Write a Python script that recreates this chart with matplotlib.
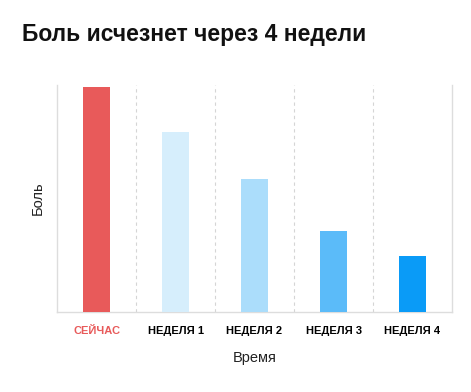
import matplotlib.pyplot as plt

# Datos del gráfico
categorias = ['СЕЙЧАС', 'НЕДЕЛЯ 1', 'НЕДЕЛЯ 2', 'НЕДЕЛЯ 3', 'НЕДЕЛЯ 4']
dolor = [10.0, 8.0, 5.9, 3.6, 2.5]
colores = ['#E85A5A', '#D6EEFC', '#ABDDFB', '#5BBBF9', '#0A9BF7']

plt.rcParams['font.family'] = ['Liberation Sans', 'DejaVu Sans']

fig = plt.figure(figsize=(4.71, 3.92), dpi=100)
ax = fig.add_axes([57 / 471, 1 - 312 / 392, 395 / 471, 227 / 392])

x = range(len(categorias))
ax.bar(x, dolor, width=0.33, color=colores, zorder=3)

ax.set_xlim(-0.5, len(categorias) - 0.5)
ax.set_ylim(0, 10.1)

# Líneas discontinuas entre categorías
for b in range(len(categorias) - 1):
    ax.axvline(b + 0.5, color='#D5D5D5', linestyle=(0, (3, 3)), linewidth=0.8, zorder=1)

for lado in ['left', 'right', 'bottom']:
    ax.spines[lado].set_color('#DDDDDD')
    ax.spines[lado].set_linewidth(1.0)
ax.spines['top'].set_visible(False)

ax.set_yticks([])
ax.set_xticks(list(x))
ax.set_xticklabels(categorias, fontsize=8, fontweight='bold')
ax.tick_params(axis='x', length=0, pad=10)
ax.get_xticklabels()[0].set_color('#E85A5A')

ax.set_xlabel('Время', fontsize=10.5, labelpad=11, color='#222222')
ax.set_ylabel('Боль', fontsize=10.5, labelpad=9, color='#222222')

fig.text(22 / 471, 1 - 34 / 392, 'Боль исчезнет через 4 недели', fontsize=16.5,
         fontweight='bold', va='center', ha='left', color='#111111')

fig.savefig('out.png', dpi=100)
